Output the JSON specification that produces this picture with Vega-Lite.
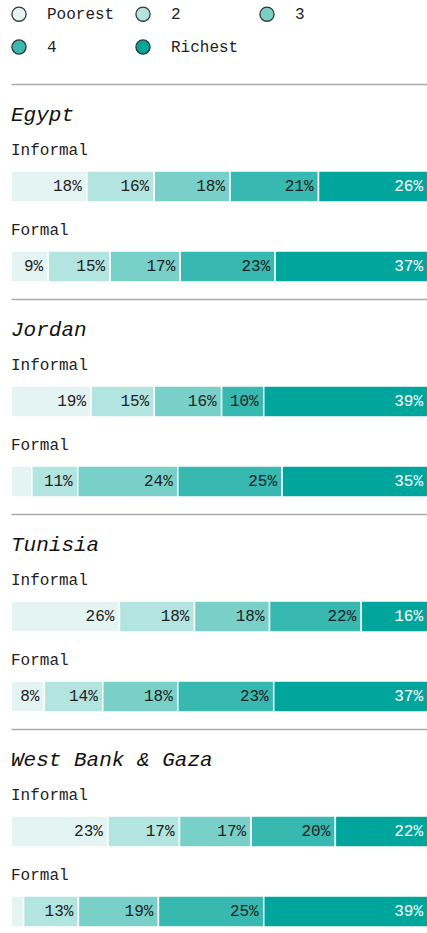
{
  "$schema": "https://vega.github.io/schema/vega-lite/v6.json",
  "padding": {"left": 10, "top": 6, "right": 0, "bottom": 0},
  "background": "white",
  "data": {"values": [
    {"country": "Egypt", "type": "Informal", "quintile": "Poorest", "rank": 1, "share": 0.18},
    {"country": "Egypt", "type": "Informal", "quintile": "2", "rank": 2, "share": 0.16},
    {"country": "Egypt", "type": "Informal", "quintile": "3", "rank": 3, "share": 0.18},
    {"country": "Egypt", "type": "Informal", "quintile": "4", "rank": 4, "share": 0.21},
    {"country": "Egypt", "type": "Informal", "quintile": "Richest", "rank": 5, "share": 0.26},
    {"country": "Egypt", "type": "Formal", "quintile": "Poorest", "rank": 1, "share": 0.09},
    {"country": "Egypt", "type": "Formal", "quintile": "2", "rank": 2, "share": 0.15},
    {"country": "Egypt", "type": "Formal", "quintile": "3", "rank": 3, "share": 0.17},
    {"country": "Egypt", "type": "Formal", "quintile": "4", "rank": 4, "share": 0.23},
    {"country": "Egypt", "type": "Formal", "quintile": "Richest", "rank": 5, "share": 0.37},
    {"country": "Jordan", "type": "Informal", "quintile": "Poorest", "rank": 1, "share": 0.19},
    {"country": "Jordan", "type": "Informal", "quintile": "2", "rank": 2, "share": 0.15},
    {"country": "Jordan", "type": "Informal", "quintile": "3", "rank": 3, "share": 0.16},
    {"country": "Jordan", "type": "Informal", "quintile": "4", "rank": 4, "share": 0.10},
    {"country": "Jordan", "type": "Informal", "quintile": "Richest", "rank": 5, "share": 0.39},
    {"country": "Jordan", "type": "Formal", "quintile": "Poorest", "rank": 1, "share": 0.05},
    {"country": "Jordan", "type": "Formal", "quintile": "2", "rank": 2, "share": 0.11},
    {"country": "Jordan", "type": "Formal", "quintile": "3", "rank": 3, "share": 0.24},
    {"country": "Jordan", "type": "Formal", "quintile": "4", "rank": 4, "share": 0.25},
    {"country": "Jordan", "type": "Formal", "quintile": "Richest", "rank": 5, "share": 0.35},
    {"country": "Tunisia", "type": "Informal", "quintile": "Poorest", "rank": 1, "share": 0.26},
    {"country": "Tunisia", "type": "Informal", "quintile": "2", "rank": 2, "share": 0.18},
    {"country": "Tunisia", "type": "Informal", "quintile": "3", "rank": 3, "share": 0.18},
    {"country": "Tunisia", "type": "Informal", "quintile": "4", "rank": 4, "share": 0.22},
    {"country": "Tunisia", "type": "Informal", "quintile": "Richest", "rank": 5, "share": 0.16},
    {"country": "Tunisia", "type": "Formal", "quintile": "Poorest", "rank": 1, "share": 0.08},
    {"country": "Tunisia", "type": "Formal", "quintile": "2", "rank": 2, "share": 0.14},
    {"country": "Tunisia", "type": "Formal", "quintile": "3", "rank": 3, "share": 0.18},
    {"country": "Tunisia", "type": "Formal", "quintile": "4", "rank": 4, "share": 0.23},
    {"country": "Tunisia", "type": "Formal", "quintile": "Richest", "rank": 5, "share": 0.37},
    {"country": "West Bank & Gaza", "type": "Informal", "quintile": "Poorest", "rank": 1, "share": 0.23},
    {"country": "West Bank & Gaza", "type": "Informal", "quintile": "2", "rank": 2, "share": 0.17},
    {"country": "West Bank & Gaza", "type": "Informal", "quintile": "3", "rank": 3, "share": 0.17},
    {"country": "West Bank & Gaza", "type": "Informal", "quintile": "4", "rank": 4, "share": 0.20},
    {"country": "West Bank & Gaza", "type": "Informal", "quintile": "Richest", "rank": 5, "share": 0.22},
    {"country": "West Bank & Gaza", "type": "Formal", "quintile": "Poorest", "rank": 1, "share": 0.03},
    {"country": "West Bank & Gaza", "type": "Formal", "quintile": "2", "rank": 2, "share": 0.13},
    {"country": "West Bank & Gaza", "type": "Formal", "quintile": "3", "rank": 3, "share": 0.19},
    {"country": "West Bank & Gaza", "type": "Formal", "quintile": "4", "rank": 4, "share": 0.25},
    {"country": "West Bank & Gaza", "type": "Formal", "quintile": "Richest", "rank": 5, "share": 0.39}
  ]},
  "facet": {
    "row": {
      "field": "country",
      "type": "nominal",
      "sort": ["Egypt", "Jordan", "Tunisia", "West Bank & Gaza"],
      "header": {"labels": false, "title": null}
    }
  },
  "spacing": {"row": 0},
  "resolve": {"axis": {"x": "independent"}},
  "spec": {
    "width": 417,
    "height": 215,
    "encoding": {
      "y": {
        "field": "type",
        "type": "nominal",
        "axis": null,
        "scale": {"domain": ["Informal", "Formal"], "paddingInner": 0.6125, "paddingOuter": 0.65, "align": 0.8365}
      }
    },
    "layer": [
      {
        "mark": {"type": "bar", "stroke": "white", "strokeWidth": 1.5},
        "encoding": {
          "x": {
            "field": "share",
            "type": "quantitative",
            "stack": "normalize",
            "axis": {"orient": "top", "domain": true, "domainColor": "#aaaaaa", "domainWidth": 1.3, "ticks": false, "labels": false, "grid": false, "title": null}
          },
          "order": {"field": "rank", "type": "quantitative"},
          "color": {
            "field": "quintile",
            "type": "nominal",
            "sort": ["Poorest", "2", "3", "4", "Richest"],
            "scale": {"domain": ["Poorest", "2", "3", "4", "Richest"], "range": ["#e4f4f2", "#b2e4e0", "#78d0c9", "#37b8b0", "#00a59c"]},
            "legend": {
              "title": null,
              "orient": "top",
              "direction": "horizontal",
              "columns": 3,
              "columnPadding": 18,
              "rowPadding": 13,
              "symbolType": "circle",
              "symbolSize": 200,
              "symbolStrokeColor": "#333333",
              "symbolStrokeWidth": 1.3,
              "labelFont": "Liberation Mono",
              "labelFontSize": 16,
              "labelColor": "#222222",
              "labelOffset": 20,
              "offset": 27,
              "padding": 0
            }
          }
        }
      },
      {
        "mark": {"type": "text", "align": "right", "baseline": "middle", "dx": -5, "font": "Liberation Mono", "fontSize": 16},
        "encoding": {
          "x": {"field": "share", "type": "quantitative", "stack": "normalize"},
          "order": {"field": "rank", "type": "quantitative"},
          "detail": {"field": "quintile", "type": "nominal"},
          "text": {
            "condition": {"test": "datum.share < 0.06", "value": ""},
            "field": "share",
            "type": "quantitative",
            "format": ".0%"
          },
          "color": {
            "condition": {"test": "datum.quintile === 'Richest'", "value": "white"},
            "value": "#222222"
          }
        }
      },
      {
        "transform": [{"filter": "datum.quintile === 'Poorest'"}],
        "mark": {"type": "text", "align": "left", "baseline": "middle", "dy": -36, "font": "Liberation Mono", "fontSize": 16, "color": "#222222"},
        "encoding": {
          "x": {"datum": 0, "type": "quantitative"},
          "text": {"field": "type", "type": "nominal"}
        }
      },
      {
        "transform": [{"filter": "datum.quintile === 'Poorest' && datum.type === 'Informal'"}],
        "mark": {"type": "text", "align": "left", "baseline": "middle", "dy": -71, "font": "Liberation Mono", "fontStyle": "italic", "fontSize": 21, "color": "#111111"},
        "encoding": {
          "x": {"datum": 0, "type": "quantitative"},
          "text": {"field": "country", "type": "nominal"}
        }
      }
    ]
  },
  "config": {
    "view": {"stroke": null},
    "font": "Liberation Mono"
  }
}
